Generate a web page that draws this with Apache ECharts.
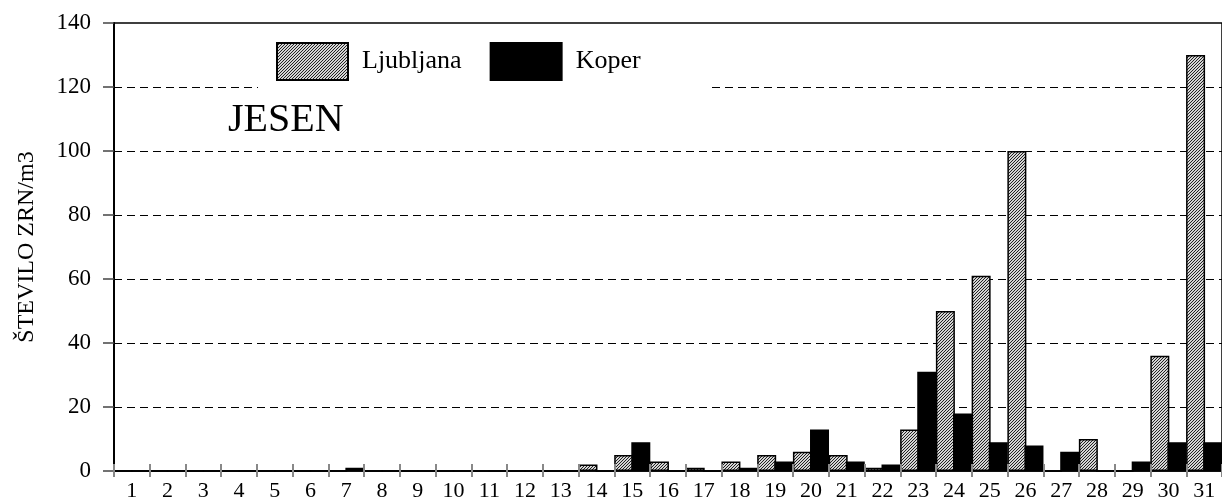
<!DOCTYPE html>
<html>
<head>
<meta charset="utf-8">
<script src="https://cdn.jsdelivr.net/npm/echarts@6/dist/echarts.min.js"></script>
<style>
html,body{margin:0;padding:0;background:#fff;}
#chart{width:1222px;height:502px;}
</style>
</head>
<body>
<div id="chart"></div>
<script>
// ---- data ----
const categories = ['1','2','3','4','5','6','7','8','9','10','11','12','13','14','15','16','17','18','19','20','21','22','23','24','25','26','27','28','29','30','31'];
const ljubljana = [0,0,0,0,0,0,0,0,0,0,0,0,0,2,5,3,1,3,5,6,5,1,13,50,61,100,0,10,0,36,130];
const koper     = [0,0,0,0,0,0,1,0,0,0,0,0,0,0,9,0,0,1,3,13,3,2,31,18,9,8,6,0,3,9,9];
const seriesNames = ['Ljubljana','Koper'];
const yTitle = 'ŠTEVILO ZRN/m3';
const seasonLabel = 'JESEN';

// hatch pattern
const pc = document.createElement('canvas');
pc.width = 3; pc.height = 3;
const pctx = pc.getContext('2d');
pctx.fillStyle = '#d4d4d4';
pctx.fillRect(0,0,3,3);
pctx.fillStyle = '#222';
pctx.fillRect(0,2,1,1);
pctx.fillRect(1,1,1,1);
pctx.fillRect(2,0,1,1);

const FONT = '"Liberation Serif", "Times New Roman", serif';
const chart = echarts.init(document.getElementById('chart'));
chart.setOption({
  animation: false,
  backgroundColor: '#fff',
  grid: {
    left: 114, top: 23, width: 1115, height: 448,
    show: true, borderColor: '#000', borderWidth: 1.5, backgroundColor: 'transparent'
  },
  legend: {
    data: seriesNames,
    left: 258, top: 34,
    padding: [8, 70, 10, 18],
    backgroundColor: '#fff',
    itemWidth: 71, itemHeight: 37, itemGap: 28,
    icon: 'rect',
    textStyle: { fontFamily: FONT, fontSize: 26, color: '#000', padding: [0,0,0,9] }
  },
  graphic: [{
    type: 'text', left: 228, top: 100, z: 10,
    style: { text: seasonLabel, font: '40px ' + FONT, fill: '#000' }
  }],
  xAxis: [{
    type: 'category', data: categories, position: 'bottom', z: 5,
    axisLine: { show: true, lineStyle: { color: '#000', width: 1.5 } },
    axisTick: { show: true, interval: 0, alignWithLabel: false, length: 6, lineStyle: { color: '#888', width: 2 } },
    axisLabel: { fontFamily: FONT, fontSize: 22, color: '#000', margin: 9, interval: 0 },
    splitLine: { show: false }
  }, {
    type: 'category', data: categories, position: 'bottom', z: 5,
    axisLine: { show: false },
    axisTick: { show: true, interval: 0, alignWithLabel: false, inside: true, length: 7, lineStyle: { color: '#888', width: 2 } },
    axisLabel: { show: false },
    splitLine: { show: false }
  }],
  yAxis: {
    type: 'value', min: 0, max: 140, interval: 20,
    name: yTitle, nameLocation: 'middle', nameGap: 75,
    nameTextStyle: { fontFamily: FONT, fontSize: 24, color: '#000' },
    axisLine: { show: true, lineStyle: { color: '#000', width: 2 } },
    axisTick: { show: true, length: 11, lineStyle: { color: '#444', width: 1.5 } },
    axisLabel: { fontFamily: FONT, fontSize: 23, color: '#000', margin: 23 },
    splitLine: { show: true, showMinLine: false, showMaxLine: false, lineStyle: { color: '#000', width: 1, type: [8, 5] } }
  },
  series: [{
    name: seriesNames[0], type: 'bar', xAxisIndex: 0, data: ljubljana,
    barWidth: 19, barGap: '-10%',
    itemStyle: { color: { image: pc, repeat: 'repeat' }, borderColor: '#000', borderWidth: 1.5 }
  }, {
    name: seriesNames[1], type: 'bar', xAxisIndex: 0, data: koper,
    barWidth: 19, barGap: '-10%',
    itemStyle: { color: '#000', borderColor: '#000', borderWidth: 1.5 }
  }]
});
</script>
</body>
</html>
